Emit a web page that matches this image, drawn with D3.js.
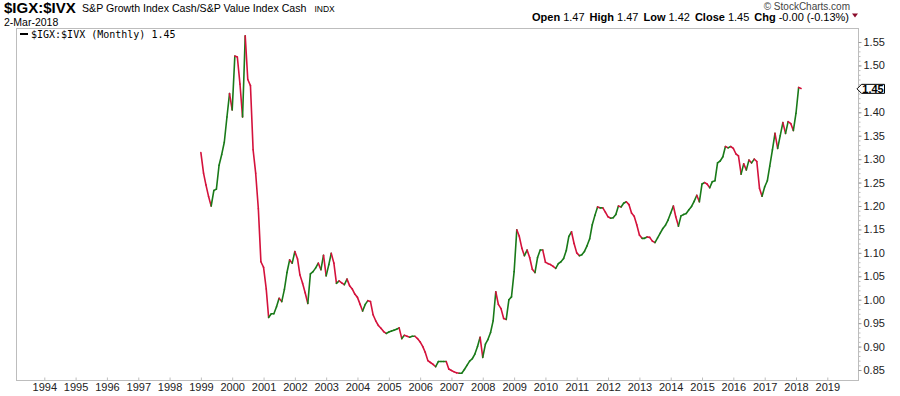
<!DOCTYPE html>
<html>
<head>
<meta charset="utf-8">
<script src="https://cdn.jsdelivr.net/npm/d3@7"></script>
<style>
body { margin: 0; background: #fff; }
svg { display: block; font-family: "Liberation Sans", Arial, sans-serif; }
</style>
</head>
<body>
<div id="chart"></div>
<script>
// monthly closes of $IGX:$IVX, Jan 1999 .. Mar 2018
var startDate = new Date(1999, 0, 1);
var ratio = [
  1.314, 1.27, 1.245, 1.22, 1.20, 1.233, 1.236, 1.287, 1.31, 1.336, 1.39, 1.44,
  1.405, 1.52, 1.518, 1.46, 1.39, 1.563, 1.47, 1.457, 1.32, 1.27, 1.194, 1.081,
  1.069, 1.023, 0.962, 0.97, 0.97, 0.985, 1.003, 0.996, 1.022, 1.058, 1.085, 1.078,
  1.103, 1.087, 1.053, 1.035, 1.015, 0.992, 1.055, 1.06, 1.068, 1.078, 1.064, 1.095,
  1.051, 1.075, 1.099, 1.078, 1.035, 1.04, 1.036, 1.032, 1.044, 1.03, 1.023, 1.012,
  1.005, 0.99, 0.976, 0.99, 0.998, 0.996, 0.968, 0.955, 0.945, 0.939, 0.932, 0.928,
  0.931, 0.933, 0.935, 0.937, 0.94, 0.917, 0.924, 0.922, 0.92, 0.922, 0.922, 0.917,
  0.91, 0.90, 0.888, 0.87, 0.866, 0.862, 0.857, 0.868, 0.868, 0.868, 0.868, 0.852,
  0.849, 0.846, 0.844, 0.843, 0.843, 0.851, 0.86, 0.869, 0.874, 0.884, 0.90, 0.92,
  0.877, 0.905, 0.915, 0.93, 0.955, 1.017, 0.99, 0.981, 0.96, 0.958, 1.0, 1.006,
  1.06, 1.149, 1.136, 1.11, 1.094, 1.106, 1.09, 1.065, 1.058, 1.09, 1.106, 1.106,
  1.08, 1.077, 1.075, 1.071, 1.067, 1.077, 1.081, 1.088, 1.105, 1.135, 1.145, 1.12,
  1.10, 1.094, 1.096, 1.103, 1.115, 1.13, 1.16, 1.18, 1.198, 1.196, 1.196, 1.187,
  1.177, 1.174, 1.175, 1.182, 1.20, 1.198, 1.206, 1.209, 1.203, 1.185, 1.178, 1.16,
  1.138, 1.131, 1.131, 1.134, 1.133, 1.125, 1.122, 1.132, 1.142, 1.152, 1.159, 1.17,
  1.185, 1.20, 1.177, 1.157, 1.179, 1.182, 1.184, 1.192, 1.199, 1.21, 1.223, 1.209,
  1.247, 1.25, 1.247, 1.239, 1.252, 1.254, 1.292, 1.296, 1.305, 1.327, 1.324, 1.327,
  1.323, 1.311, 1.307, 1.268, 1.29, 1.277, 1.298, 1.292, 1.30, 1.295, 1.238, 1.221,
  1.241, 1.254, 1.285, 1.32, 1.355, 1.323, 1.35, 1.378, 1.355, 1.38, 1.376, 1.361,
  1.398, 1.453, 1.451
];
var yTicks = [0.85, 0.90, 0.95, 1.00, 1.05, 1.10, 1.15, 1.20, 1.25, 1.30, 1.35, 1.40, 1.45, 1.50, 1.55];
var yearTicks = [1994, 1995, 1996, 1997, 1998, 1999, 2000, 2001, 2002, 2003, 2004, 2005, 2006,
                 2007, 2008, 2009, 2010, 2011, 2012, 2013, 2014, 2015, 2016, 2017, 2018, 2019];
var quoteLabels = ["Open", "High", "Low", "Close", "Chg"];
var quoteValues = ["1.47", "1.47", "1.42", "1.45", "-0.00 (-0.13%)"];
var lastValue = 1.45;

var width = 900, height = 396;
var frame = {left: 16.5, right: 858.5, top: 28.5, bottom: 380.5};
var upColor = "#197a19", downColor = "#d4123c", gridColor = "#bdbdbd";

var svg = d3.select("#chart").append("svg")
    .attr("width", width)
    .attr("height", height);

var x = d3.scaleTime()
    .domain([new Date(1994, 0, 1), new Date(2019, 0, 1)])
    .range([44.3, 827.3]);
var y = d3.scaleLinear()
    .domain([0.85, 1.55])
    .range([370, 42]);

// header
svg.append("text").attr("x", 4).attr("y", 13)
    .style("font-size", "15px").style("font-weight", "bold").attr("fill", "#000")
    .text("$IGX:$IVX");
var subTitle = svg.append("text").attr("x", 82).attr("y", 12)
    .style("font-size", "10.6px").attr("fill", "#000")
    .text("S&P Growth Index Cash/S&P Value Index Cash");
svg.append("text")
    .attr("x", 82 + subTitle.node().getComputedTextLength() + 8).attr("y", 12)
    .style("font-size", "8.5px").attr("fill", "#000")
    .text("INDX");
svg.append("text").attr("x", 4).attr("y", 26)
    .style("font-size", "10.5px").attr("fill", "#000")
    .text("2-Mar-2018");

svg.append("text").attr("x", 850).attr("y", 10)
    .attr("text-anchor", "end")
    .style("font-size", "10px").attr("fill", "#444")
    .text("\u00A9 StockCharts.com");

var quote = svg.append("text").attr("x", 849).attr("y", 21)
    .attr("text-anchor", "end")
    .style("font-size", "11px").attr("fill", "#000");
quoteLabels.forEach((lab, i) => {
    quote.append("tspan").attr("dx", i ? 5 : 0).style("font-weight", "bold").text(lab);
    quote.append("tspan").attr("dx", 3).text(quoteValues[i]);
});
svg.append("path")
    .attr("d", "M852,13.5L858,13.5L855,17.5Z")
    .attr("fill", "#8b0b2b");

// frame
svg.append("rect")
    .attr("x", frame.left).attr("y", frame.top)
    .attr("width", frame.right - frame.left)
    .attr("height", frame.bottom - frame.top)
    .attr("fill", "none").attr("stroke", gridColor);

// right axis: minor ticks, then major ticks with labels
var minorTicks = d3.range(85, 156).map(d => d / 100);
svg.append("g")
    .attr("transform", "translate(" + frame.right + ",0)")
    .call(d3.axisRight(y).tickValues(minorTicks).tickSize(2).tickFormat(""))
    .call(g => g.select(".domain").remove())
    .call(g => g.selectAll("line").attr("stroke", gridColor));

svg.append("g")
    .attr("transform", "translate(" + frame.right + ",0)")
    .call(d3.axisRight(y).tickValues(yTicks.filter(d => d !== lastValue))
        .tickSize(3).tickPadding(2).tickFormat(d3.format(".2f")))
    .call(g => g.select(".domain").remove())
    .call(g => g.selectAll("line").attr("stroke", "#999"))
    .call(g => g.selectAll("text").attr("fill", "#222")
        .style("font-size", "11px").style("font-family", "Liberation Sans, Arial, sans-serif"));

// bottom axis
svg.append("g")
    .attr("transform", "translate(0," + frame.bottom + ")")
    .call(d3.axisBottom(x).tickValues(yearTicks.map(d => new Date(d, 0, 1)))
        .tickSizeInner(-3).tickSizeOuter(0).tickPadding(3)
        .tickFormat(d3.timeFormat("%Y")))
    .call(g => g.select(".domain").remove())
    .call(g => g.selectAll("line").attr("stroke", gridColor))
    .call(g => g.selectAll("text").attr("fill", "#222")
        .style("font-size", "11px").style("font-family", "Liberation Sans, Arial, sans-serif"));

// price line, coloured by direction
var pts = ratio.map((v, i) => ({date: d3.timeMonth.offset(startDate, i), value: v}));
svg.append("g")
    .selectAll("line")
    .data(d3.pairs(pts))
    .enter()
    .append("line")
    .attr("x1", d => x(d[0].date))
    .attr("y1", d => y(d[0].value))
    .attr("x2", d => x(d[1].date))
    .attr("y2", d => y(d[1].value))
    .attr("stroke", d => d[1].value >= d[0].value ? upColor : downColor)
    .attr("stroke-width", 1.6)
    .attr("stroke-linecap", "round");

// legend
svg.append("line")
    .attr("x1", 20).attr("x2", 28).attr("y1", 34).attr("y2", 34)
    .attr("stroke", "#000").attr("stroke-width", 2);
svg.append("text").attr("x", 31).attr("y", 37.5)
    .style("font-family", "DejaVu Sans Mono, monospace")
    .style("font-size", "10px").attr("fill", "#000")
    .text("$IGX:$IVX (Monthly) " + lastValue.toFixed(2));

// last value tag on the axis
var ty = y(lastValue);
svg.append("path")
    .attr("d", "M857," + ty + "L861.5," + (ty - 4.5) + "L884.5," + (ty - 4.5) +
               "L884.5," + (ty + 4.5) + "L861.5," + (ty + 4.5) + "Z")
    .attr("fill", "#fff").attr("stroke", "#000");
svg.append("text").attr("x", 873).attr("y", ty + 4)
    .attr("text-anchor", "middle")
    .style("font-size", "11px").style("font-weight", "bold").attr("fill", "#000")
    .text(lastValue.toFixed(2));
</script>
</body>
</html>
